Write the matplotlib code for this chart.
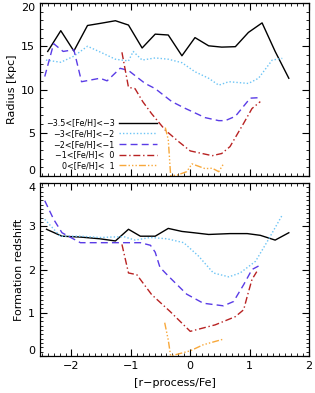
import matplotlib
matplotlib.use("Agg")
import matplotlib.pyplot as plt
from matplotlib.ticker import MultipleLocator

# ---------------- data ----------------
labels = ["\u22123.5<[Fe/H]<\u22123", "\u22123<[Fe/H]<\u22122", "\u22122<[Fe/H]<\u22121",
          "\u22121<[Fe/H]<  0", "0<[Fe/H]<  1"]
xticks = [-2, -1, 0, 1, 2]
yticks_top = [0, 5, 10, 15, 20]
yticks_bot = [0, 1, 2, 3, 4]

# top panel: radius [kpc]
x_r0 = [-2.40, -2.18, -1.96, -1.73, -1.51, -1.26, -1.04, -0.81, -0.59, -0.37, -0.14, 0.08, 0.31, 0.53, 0.76, 0.98, 1.21, 1.43, 1.66]
r0 = [14.4, 16.8, 14.45, 17.4, 17.65, 17.95, 17.45, 14.8, 16.4, 16.3, 13.9, 16.0, 15.05, 14.9, 14.95, 16.6, 17.7, 14.4, 11.3]

x_r1 = [-2.43, -2.18, -1.96, -1.73, -1.49, -1.26, -1.04, -0.96, -0.81, -0.59, -0.37, -0.14, 0.08, 0.31, 0.48, 0.65, 0.98, 1.15, 1.38, 1.55]
r1 = [13.4, 13.15, 13.85, 15.0, 14.25, 13.5, 13.3, 14.4, 13.4, 13.65, 13.5, 13.1, 12.05, 11.3, 10.5, 10.9, 10.7, 11.3, 13.4, 13.6]

x_r2 = [-2.45, -2.30, -2.14, -1.96, -1.83, -1.52, -1.40, -1.18, -1.04, -0.76, -0.59, -0.31, -0.11, 0.25, 0.48, 0.59, 0.76, 1.01, 1.15]
r2 = [11.5, 15.3, 14.4, 14.6, 10.9, 11.3, 11.0, 12.45, 12.2, 10.7, 10.1, 8.6, 7.9, 6.75, 6.4, 6.4, 6.9, 9.0, 9.05]

x_r3 = [-1.15, -1.04, -0.93, -0.80, -0.65, -0.42, -0.20, 0.0, 0.20, 0.37, 0.53, 0.67, 0.90, 1.04, 1.18]
r3 = [14.3, 10.25, 10.1, 8.6, 7.2, 5.3, 4.0, 2.9, 2.6, 2.35, 2.6, 3.4, 6.1, 7.8, 8.6]

x_r4 = [-0.42, -0.37, -0.33, -0.22, -0.06, 0.03, 0.15, 0.25, 0.37, 0.48, 0.56]
r4 = [5.6, 4.2, 0.05, 0.1, 0.5, 1.4, 1.1, 0.85, 0.9, 0.5, 1.4]

# bottom panel: formation redshift
x_z0 = [-2.42, -2.16, -1.85, -1.52, -1.26, -1.04, -0.84, -0.59, -0.37, -0.14, 0.06, 0.31, 0.67, 0.96, 1.18, 1.43, 1.66]
z0 = [2.93, 2.77, 2.75, 2.71, 2.66, 2.93, 2.77, 2.77, 2.95, 2.88, 2.85, 2.81, 2.83, 2.83, 2.79, 2.68, 2.85]

x_z1 = [-2.45, -2.19, -1.85, -1.52, -1.12, -0.93, -0.67, -0.39, -0.11, 0.14, 0.39, 0.65, 0.84, 1.10, 1.32, 1.55]
z1 = [3.16, 2.77, 2.77, 2.74, 2.76, 2.68, 2.74, 2.71, 2.62, 2.31, 1.92, 1.83, 1.92, 2.19, 2.70, 3.26]

x_z2 = [-2.45, -2.30, -2.16, -1.85, -1.52, -0.84, -0.67, -0.59, -0.51, -0.37, -0.06, 0.22, 0.56, 0.73, 0.90, 1.04, 1.15]
z2 = [3.59, 3.16, 2.85, 2.62, 2.62, 2.62, 2.56, 2.40, 2.05, 1.85, 1.43, 1.22, 1.16, 1.26, 1.65, 2.0, 2.08]

x_z3 = [-1.15, -1.04, -0.90, -0.65, -0.34, 0.0, 0.42, 0.76, 0.90, 0.96, 1.04, 1.12]
z3 = [2.58, 1.92, 1.88, 1.42, 1.03, 0.57, 0.72, 0.91, 1.07, 1.38, 1.77, 1.95]

x_z4 = [-0.43, -0.37, -0.33, 0.0, 0.22, 0.56]
z4 = [0.77, 0.37, 0.0, 0.12, 0.26, 0.39]

# ---------------- styles ----------------
colors = ["black", "#6cc4f5", "#5a3ce6", "#b82222", "#f8a83a"]
styles = ["-", (0, (1, 1.5)), (0, (5, 3)), (0, (5, 2, 1, 2)), (0, (5, 1.5, 1, 1.5, 1, 1.5, 1, 1.5))]

fig = plt.figure(figsize=(3.15, 3.93), dpi=100)
ax1 = fig.add_axes([40/315, (393-176)/393, 269/315, 173/393])
ax2 = fig.add_axes([40/315, (393-356)/393, 269/315, 173/393])

top = [(x_r0, r0), (x_r1, r1), (x_r2, r2), (x_r3, r3), (x_r4, r4)]
bot = [(x_z0, z0), (x_z1, z1), (x_z2, z2), (x_z3, z3), (x_z4, z4)]

for i, (x, y) in enumerate(top):
    ax1.plot(x, y, color=colors[i], linestyle=styles[i], lw=1.0, label=labels[i])
for i, (x, y) in enumerate(bot):
    ax2.plot(x, y, color=colors[i], linestyle=styles[i], lw=1.0)

for ax in (ax1, ax2):
    ax.set_xlim(-2.53, 2.0)
    ax.set_xticks(xticks)
    ax.xaxis.set_minor_locator(MultipleLocator(0.1))
    ax.tick_params(which="both", direction="in", top=True, right=True, labelsize=8)
    ax.tick_params(which="major", length=5, width=0.8)
    ax.tick_params(which="minor", length=2.5, width=0.6)
    for s in ax.spines.values():
        s.set_linewidth(0.9)

ax1.set_ylim(0, 20)
ax1.set_yticks(yticks_top)
ax1.yaxis.set_minor_locator(MultipleLocator(1))
ax1.tick_params(labelbottom=False)
ax1.set_ylabel("Radius [kpc]", fontsize=8, labelpad=3)

ax2.set_ylim(0, 4)
ax2.set_yticks(yticks_bot)
ax2.yaxis.set_minor_locator(MultipleLocator(0.1))
ax2.set_ylabel("Formation redshift", fontsize=8, labelpad=3)
ax2.set_xlabel("[r\u2212process/Fe]", fontsize=8, labelpad=5)

# nudge end labels inward like the reference
t1 = ax1.yaxis.get_major_ticks()
t1[0].label1.set_va("bottom")
t1[-1].label1.set_va("top")
t2 = ax2.yaxis.get_major_ticks()
t2[0].label1.set_va("bottom")
t2[-1].label1.set_va("top")

ax1.legend(loc="lower right", bbox_to_anchor=(0.446, 0.018), frameon=False, fontsize=5.8,
           markerfirst=False, handlelength=4.7, handletextpad=0.6, labelspacing=0.2,
           borderaxespad=0.25, borderpad=0.1)

fig.savefig("out.png", dpi=100)
